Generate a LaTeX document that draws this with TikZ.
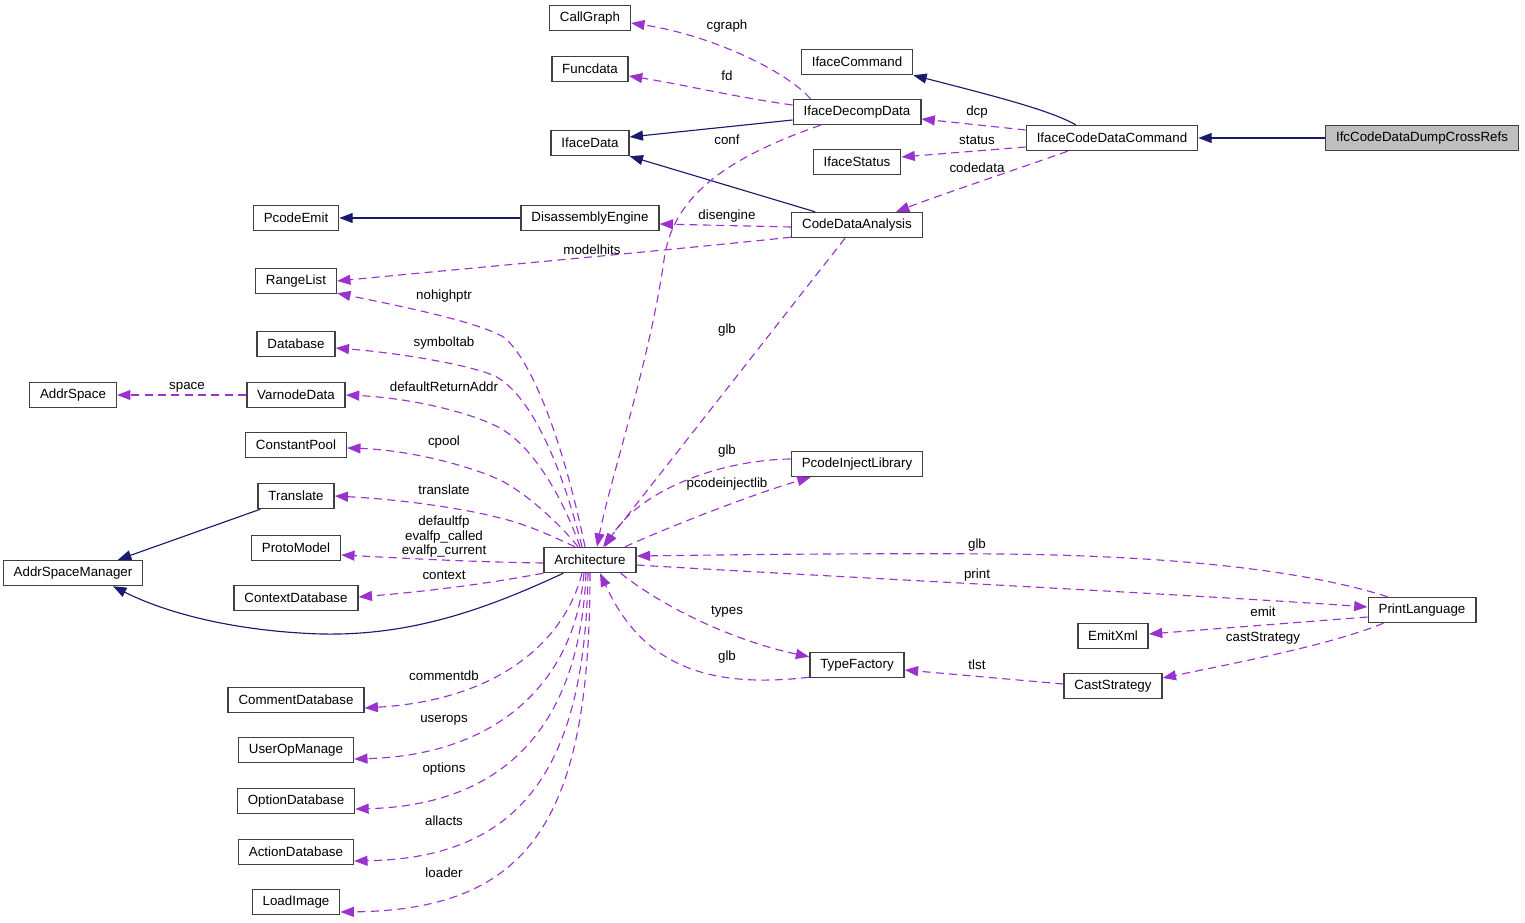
\documentclass[tikz,border=0pt]{standalone}
\usepackage{fontspec}
\setmainfont{Liberation Sans}
\usetikzlibrary{arrows.meta,calc}
\definecolor{inhcol}{HTML}{191970}
\definecolor{usecol}{HTML}{9A32CD}
\definecolor{greyfill}{HTML}{BFBFBF}
\begin{document}
\begin{tikzpicture}[x=0.75pt,y=-0.75pt,
  cls/.style={draw=black!75, line width=1.1pt, fill=white, font=\fontsize{10}{12}\selectfont,
    minimum height=18.75pt, inner xsep=7.8pt, inner ysep=0pt},
  lbl/.style={font=\fontsize{10}{10.9}\selectfont, inner sep=0pt, align=center},
  inhe/.style={draw=inhcol, line width=0.85pt, -{Triangle[length=10pt,width=7.5pt]}},
  usee/.style={draw=usecol, line width=0.85pt, dash pattern=on 6pt off 4pt, -{Triangle[length=10pt,width=7.5pt]}}
]
\useasboundingbox (0,0) rectangle (1525,923);

% nodes
\node[cls] (cg)   at (590,18)  {CallGraph};
\node[cls] (fdn)  at (590,69)  {Funcdata};
\node[cls] (ifd)  at (590,143) {IfaceData};
\node[cls] (icmd) at (857,62)  {IfaceCommand};
\node[cls] (iddd) at (857,112) {IfaceDecompData};
\node[cls] (ist)  at (857,162) {IfaceStatus};
\node[cls] (icdc) at (1112,138) {IfaceCodeDataCommand};
\node[cls, fill=greyfill] (ifc) at (1422,138) {IfcCodeDataDumpCrossRefs};
\node[cls] (cda)  at (857,225) {CodeDataAnalysis};
\node[cls] (pe)   at (296,218) {PcodeEmit};
\node[cls] (dis)  at (590,218) {DisassemblyEngine};
\node[cls] (rl)   at (296,281) {RangeList};
\node[cls] (db)   at (296,344) {Database};
\node[cls] (asp)  at (73,395)  {AddrSpace};
\node[cls] (vd)   at (296,395) {VarnodeData};
\node[cls] (cp)   at (296,445) {ConstantPool};
\node[cls] (tr)   at (296,496) {Translate};
\node[cls] (pm)   at (296,548) {ProtoModel};
\node[cls] (asm)  at (73,573)  {AddrSpaceManager};
\node[cls] (ctx)  at (296,598) {ContextDatabase};
\node[cls] (arch) at (590,560) {Architecture};
\node[cls] (pil)  at (857,464) {PcodeInjectLibrary};
\node[cls] (pl)   at (1422,610) {PrintLanguage};
\node[cls] (ex)   at (1113,636) {EmitXml};
\node[cls] (tf)   at (857,665) {TypeFactory};
\node[cls] (cs)   at (1113,686) {CastStrategy};
\node[cls] (cdb)  at (296,700) {CommentDatabase};
\node[cls] (uom)  at (296,750) {UserOpManage};
\node[cls] (odb)  at (296,801) {OptionDatabase};
\node[cls] (adb)  at (296,852) {ActionDatabase};
\node[cls] (li)   at (296,902) {LoadImage};

% inheritance edges
\draw[inhe] (ifc.west) -- (icdc.east);
\draw[inhe] ($(icdc.north west)+(50,0)$) .. controls (1050,110) and (990,95) .. (icmd.south east);
\draw[inhe] ($(iddd.west)+(0,8)$) -- ($(ifd.east)+(0,-6)$);
\draw[inhe] ($(cda.north west)+(24,0)$) -- (ifd.south east);
\draw[inhe] (dis.west) -- (pe.east);
\draw[inhe] ($(tr.south west)+(3,0)$) -- ($(asm.north)+(45,0)$);
\draw[inhe] ($(arch.south west)+(20,0)$) .. controls (480,612) and (400,640) .. (300,633)
            .. controls (220,628) and (160,610) .. ($(asm.south)+(40,0)$);

% usage edges
\draw[usee] ($(icdc.west)+(0,-8)$) -- ($(iddd.east)+(0,7)$);
\draw[usee] ($(icdc.west)+(0,9)$) -- ($(ist.east)+(0,-5)$);
\draw[usee] ($(icdc.south west)+(42,0)$) .. controls (1000,175) and (940,195) .. ($(cda.north east)+(-27,0)$);
\draw[usee] ($(iddd.north west)+(18,0)$) .. controls (785,70) and (710,35) .. ($(cg.east)+(0,5)$);
\draw[usee] ($(iddd.west)+(0,-7)$) .. controls (740,98) and (680,84) .. ($(fdn.east)+(0,7)$);
\draw[usee] ($(iddd.south west)+(28,0)$) .. controls (720,160) and (672,200) .. (664,260)
            .. controls (650,360) and (610,480) .. ($(arch.north)+(7,0)$);
\draw[usee] ($(cda.west)+(0,2)$) -- ($(dis.east)+(0,6)$);
\draw[usee] ($(cda.south west)+(0,-1)$) .. controls (650,252) and (450,270) .. (rl.east);
\draw[usee] ($(cda.south west)+(54,0)$) -- ($(arch.north)+(13,0)$);
\draw[usee] ($(arch.north)+(-5,0)$) .. controls (565,450) and (535,365) .. (505,338)
            .. controls (480,322) and (400,306) .. ($(rl.south east)+(0,-1)$);
\draw[usee] ($(arch.north)+(-8,0)$) .. controls (560,460) and (530,395) .. (495,376)
            .. controls (470,365) and (400,353) .. ($(db.east)+(0,4)$);
\draw[usee] ($(arch.north)+(-10,0)$) .. controls (560,490) and (530,445) .. (500,428)
            .. controls (470,412) and (410,398) .. (vd.east);
\draw[usee] (vd.west) -- (asp.east);
\draw[usee] ($(arch.north)+(-12,0)$) .. controls (565,530) and (530,495) .. (500,480)
            .. controls (470,466) and (410,450) .. ($(cp.east)+(0,3)$);
\draw[usee] ($(arch.north)+(-15,0)$) .. controls (560,540) and (530,525) .. (500,518)
            .. controls (470,510) and (410,500) .. (tr.east);
\draw[usee] ($(arch.west)+(0,3)$) .. controls (470,562) and (400,558) .. ($(pm.east)+(0,7)$);
\draw[usee] (arch.south west) .. controls (480,585) and (420,592) .. ($(ctx.east)+(0,-1)$);
\draw[usee] ($(arch.south)+(-8,0)$) .. controls (565,640) and (500,700) .. ($(cdb.east)+(0,8)$);
\draw[usee] ($(arch.south)+(-6,0)$) .. controls (575,680) and (500,755) .. ($(uom.east)+(0,9)$);
\draw[usee] ($(arch.south)+(-4,0)$) .. controls (580,720) and (510,805) .. ($(odb.east)+(0,8)$);
\draw[usee] ($(arch.south)+(-2,0)$) .. controls (585,770) and (520,858) .. ($(adb.east)+(0,9)$);
\draw[usee] (arch.south) .. controls (590,820) and (530,910) .. ($(li.east)+(0,10)$);
\draw[usee] ($(pil.west)+(0,-5)$) .. controls (720,460) and (640,490) .. ($(arch.north)+(15,0)$);
\draw[usee] ($(arch.north)+(35,0)$) .. controls (680,522) and (760,492) .. ($(pil.south west)+(20,0)$);
\draw[usee] ($(pl.north west)+(20,0)$) .. controls (1320,575) and (1200,556) .. (1000,554)
            .. controls (850,553) and (720,555) .. ($(arch.east)+(0,-4)$);
\draw[usee] ($(arch.east)+(0,5)$) .. controls (800,575) and (1200,595) .. ($(pl.west)+(0,-3)$);
\draw[usee] ($(pl.west)+(0,7)$) -- ($(ex.east)+(0,-2)$);
\draw[usee] ($(pl.south west)+(16,0)$) .. controls (1330,645) and (1240,662) .. ($(cs.east)+(0,-8)$);
\draw[usee] ($(cs.west)+(0,-2)$) -- ($(tf.east)+(0,5)$);
\draw[usee] ($(arch.south east)+(-16,0)$) .. controls (660,605) and (730,640) .. ($(tf.north west)+(0,5)$);
\draw[usee] ($(tf.south west)+(0,-1)$) .. controls (700,690) and (640,660) .. ($(arch.south)+(10,0)$);

% labels
\node[lbl] (l1)  at (727,26)  {cgraph};
\node[lbl] (l2)  at (727,76)  {fd};
\node[lbl] (l3)  at (727,140) {conf};
\node[lbl] (l4)  at (977,112) {dcp};
\node[lbl] (l5)  at (977,140) {status};
\node[lbl] (l6)  at (977,168) {codedata};
\node[lbl] (l7)  at (727,216) {disengine};
\node[lbl] (l8)  at (592,250) {modelhits};
\node[lbl] (l9)  at (727,330) {glb};
\node[lbl] (l10) at (444,296) {nohighptr};
\node[lbl] (l11) at (444,343) {symboltab};
\node[lbl] (l12) at (444,387) {defaultReturnAddr};
\node[lbl] (l13) at (187,387) {space};
\node[lbl] (l14) at (444,442) {cpool};
\node[lbl] (l15) at (444,490) {translate};
\node[lbl] (l16) at (444,537) {defaultfp\\evalfp\_called\\evalfp\_current};
\node[lbl] (l17) at (444,575) {context};
\node[lbl] (l18) at (727,451) {glb};
\node[lbl] (l19) at (727,484) {pcodeinjectlib};
\node[lbl] (l20) at (977,545) {glb};
\node[lbl] (l21) at (977,575) {print};
\node[lbl] (l22) at (1263,612) {emit};
\node[lbl] (l23) at (1263,638) {castStrategy};
\node[lbl] (l24) at (727,612) {types};
\node[lbl] (l25) at (727,657) {glb};
\node[lbl] (l26) at (977,665) {tlst};
\node[lbl] (l27) at (444,676) {commentdb};
\node[lbl] (l28) at (444,720) {userops};
\node[lbl] (l29) at (444,769) {options};
\node[lbl] (l30) at (444,821) {allacts};
\node[lbl] (l31) at (444,873) {loader};
\end{tikzpicture}
\end{document}
